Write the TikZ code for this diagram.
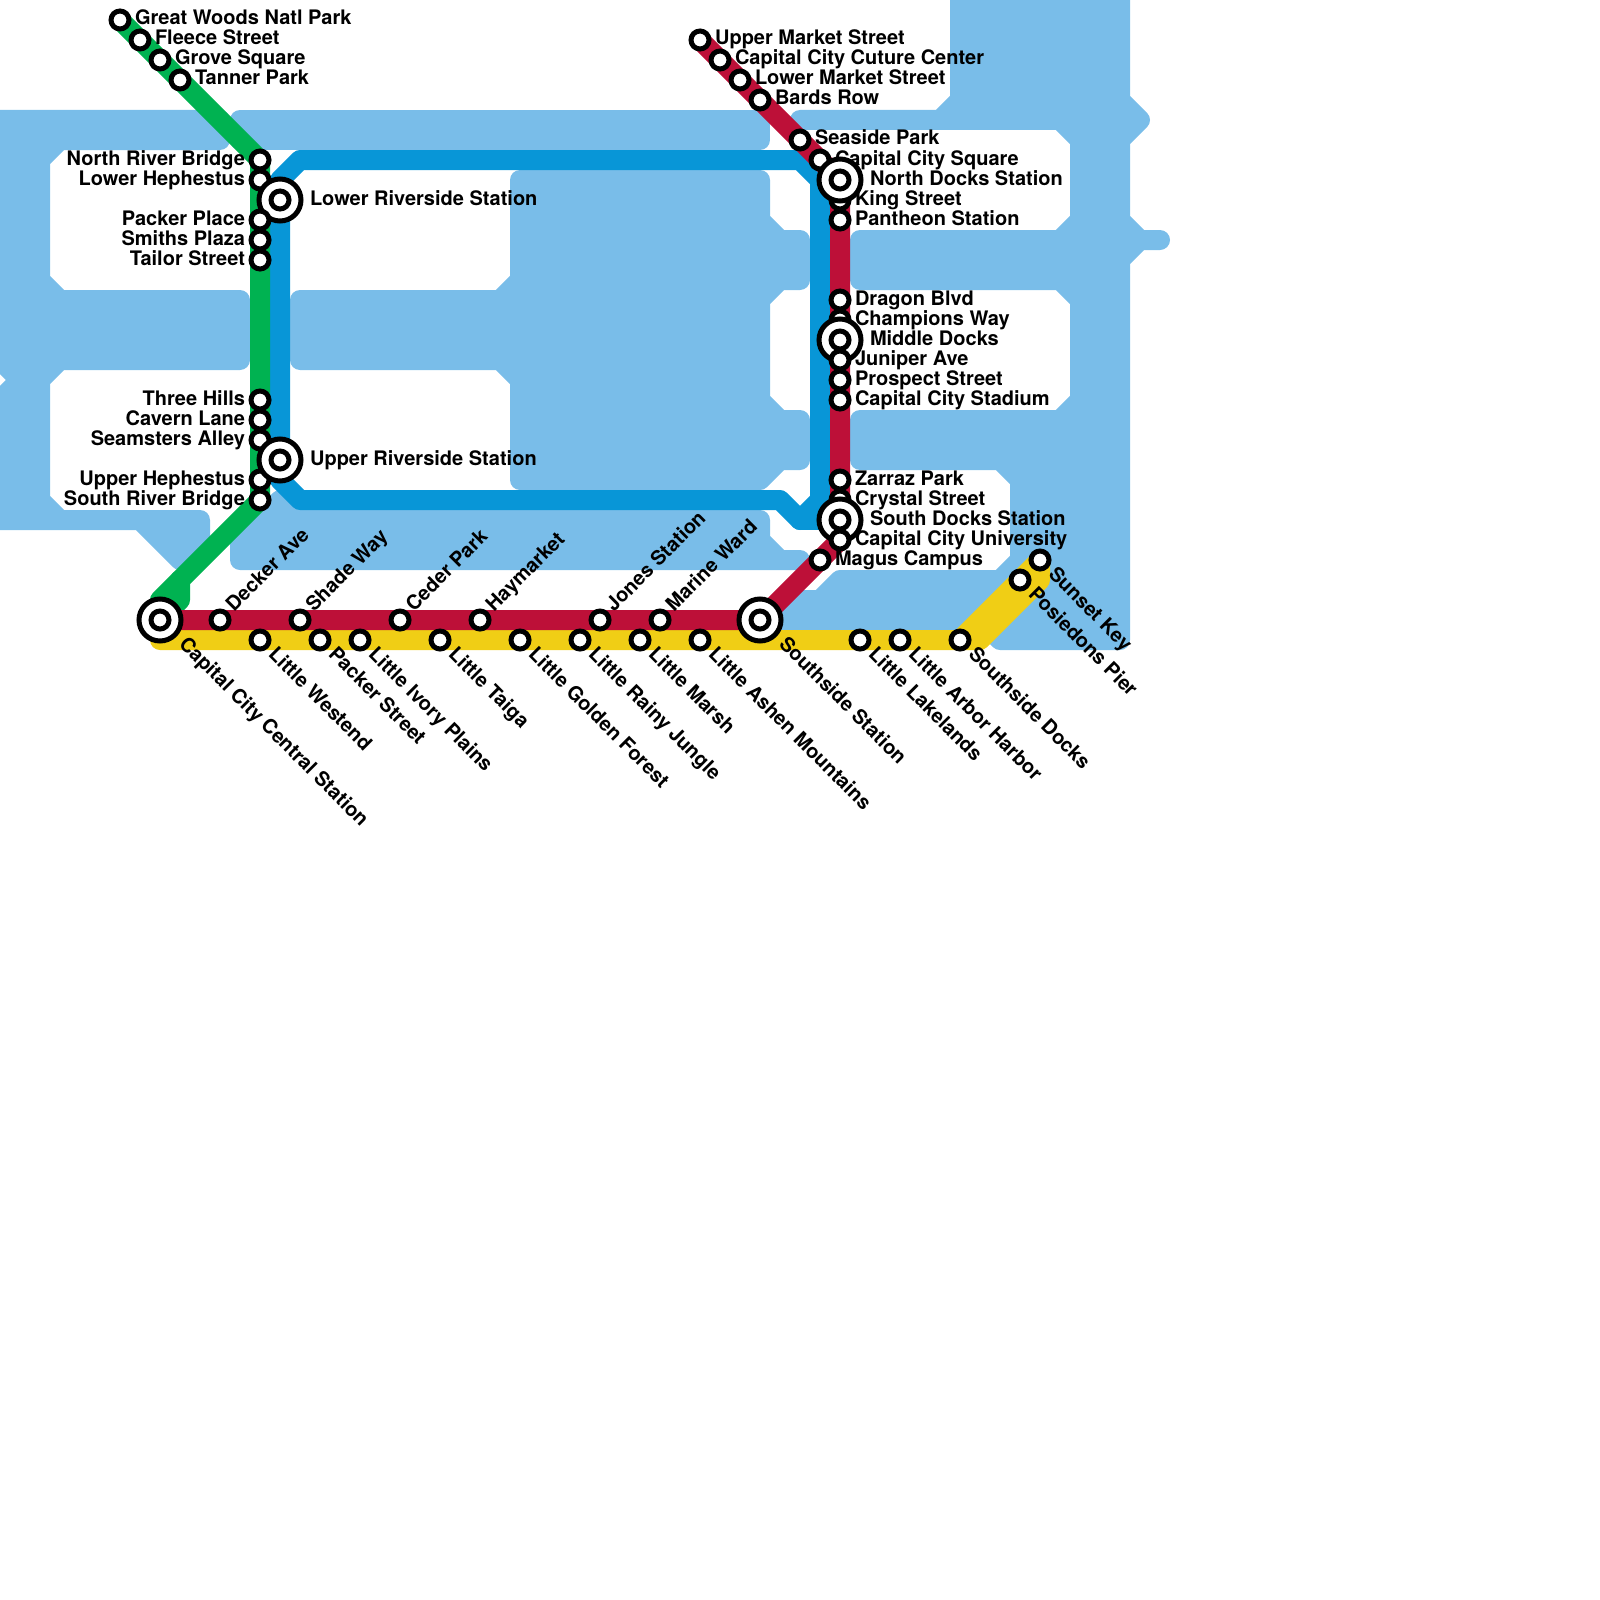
\documentclass[tikz,border=0pt]{standalone}
\usepackage{fontspec}
\setmainfont{TeX Gyre Heros}
\usetikzlibrary{backgrounds}
\definecolor{waterc}{HTML}{79BDE9}
\definecolor{bluec}{HTML}{0896D7}
\definecolor{greenc}{HTML}{00B251}
\definecolor{redc}{HTML}{BD1038}
\definecolor{yellowc}{HTML}{F0CE15}
\tikzset{
  stn/.style={circle,draw=black,fill=white,line width=5pt,minimum size=18pt,inner sep=0pt,outer sep=0pt},
  bigstn/.style={circle,draw=black,fill=white,line width=5pt,minimum size=42pt,inner sep=0pt,outer sep=0pt},
  lab/.style={font=\fontsize{20pt}{20pt}\selectfont\bfseries,inner sep=0pt,outer sep=0pt,text=black},
  water/.style={fill=waterc,draw=waterc,line width=20pt,line join=round,line cap=round},
  metro/.style={line width=20pt,line join=round,line cap=round}
}
% right label, left label, up-diagonal label, down-diagonal label
\newcommand\stR[3]{\node[stn] (#1) at (#2) {};\node[lab,anchor=base west] (#1-l) at ([shift={(15,5)}]#1.center) {#3};}
\newcommand\stL[3]{\node[stn] (#1) at (#2) {};\node[lab,anchor=base east] (#1-l) at ([shift={(-15,5)}]#1.center) {#3};}
\newcommand\stU[3]{\node[stn] (#1) at (#2) {};\node[lab,anchor=base west,rotate=45] (#1-l) at ([shift={(14,-7.5)}]#1.center) {#3};}
\newcommand\stD[3]{\node[stn] (#1) at (#2) {};\node[lab,anchor=base west,rotate=-45] (#1-l) at ([shift={(7.5,15.5)}]#1.center) {#3};}
\newcommand\bigR[3]{\node[bigstn] (#1) at (#2) {};\node[stn] (#1-c) at (#1.center) {};\node[lab,anchor=base west] (#1-l) at ([shift={(30,5)}]#1.center) {#3};}
\newcommand\bigD[3]{\node[bigstn] (#1) at (#2) {};\node[stn] (#1-c) at (#1.center) {};\node[lab,anchor=base west,rotate=-45] (#1-l) at ([shift={(18,25)}]#1.center) {#3};}
\begin{document}
\begin{tikzpicture}[x=1pt,y=-1pt]
\useasboundingbox (0,0) rectangle (1600,1600);
% stations and labels, in drawing order
\stR{greatwoods}{120,20}{Great Woods Natl Park}
\stR{fleece}{140,40}{Fleece Street}
\stR{grove}{160,60}{Grove Square}
\stR{tanner}{180,80}{Tanner Park}
\stL{northriver}{260,160}{North River Bridge}
\stL{lowerheph}{260,180}{Lower Hephestus}
\bigR{lowerriver}{280,200}{Lower Riverside Station}
\stL{packerplace}{260,220}{Packer Place}
\stL{smiths}{260,240}{Smiths Plaza}
\stL{tailor}{260,260}{Tailor Street}
\stL{threehills}{260,400}{Three Hills}
\stL{cavern}{260,420}{Cavern Lane}
\stL{seamsters}{260,440}{Seamsters Alley}
\stL{upperheph}{260,480}{Upper Hephestus}
\stL{southriver}{260,500}{South River Bridge}
\bigR{upperriver}{280,460}{Upper Riverside Station}
\bigD{central}{160,620}{Capital City Central Station}
\stU{decker}{220,620}{Decker Ave}
\stU{shade}{300,620}{Shade Way}
\stU{ceder}{400,620}{Ceder Park}
\stU{haymarket}{480,620}{Haymarket}
\stU{jones}{600,620}{Jones Station}
\stU{marine}{660,620}{Marine Ward}
\stD{westend}{260,640}{Little Westend}
\stD{packerstreet}{320,640}{Packer Street}
\stD{ivory}{360,640}{Little Ivory Plains}
\stD{taiga}{440,640}{Little Taiga}
\stD{golden}{520,640}{Little Golden Forest}
\stD{rainy}{580,640}{Little Rainy Jungle}
\stD{marsh}{640,640}{Little Marsh}
\stD{ashen}{700,640}{Little Ashen Mountains}
\bigD{southside}{760,620}{Southside Station}
\stD{lakelands}{860,640}{Little Lakelands}
\stD{arbor}{900,640}{Little Arbor Harbor}
\stD{southdocksb}{960,640}{Southside Docks}
\stD{posiedons}{1020,580}{Posiedons Pier}
\stD{sunset}{1040,560}{Sunset Key}
\stR{uppermarket}{700,40}{Upper Market Street}
\stR{culture}{720,60}{Capital City Cuture Center}
\stR{lowermarket}{740,80}{Lower Market Street}
\stR{bards}{760,100}{Bards Row}
\stR{seaside}{800,140}{Seaside Park}
\stR{ccsquare}{820,160}{Capital City Square}
\stR{king}{840,200}{King Street}
\bigR{northdocks}{840,180}{North Docks Station}
\stR{pantheon}{840,220}{Pantheon Station}
\stR{dragon}{840,300}{Dragon Blvd}
\stR{champions}{840,320}{Champions Way}
\bigR{middledocks}{840,340}{Middle Docks}
\stR{juniper}{840,360}{Juniper Ave}
\stR{prospect}{840,380}{Prospect Street}
\stR{stadium}{840,400}{Capital City Stadium}
\stR{zarraz}{840,480}{Zarraz Park}
\stR{crystal}{840,500}{Crystal Street}
\bigR{southdocks}{840,520}{South Docks Station}
\stR{university}{840,540}{Capital City University}
\stR{magus}{820,560}{Magus Campus}
\begin{scope}[on background layer]
\clip (0,0) rectangle (1600,1600);
% water
\draw[water] (-20,120) -- (220,120) -- (220,140) -- (60,140) -- (40,160) -- (40,280) -- (60,300) -- (240,300) -- (240,360) -- (60,360) -- (40,380) -- (40,500) -- (60,520) -- (200,520) -- (200,550) -- (180,560) -- (140,520) -- (-20,520) -- (-20,420) -- (20,380) -- (-20,340) -- cycle;
\draw[water] (240,120) -- (760,120) -- (760,140) -- (240,140) -- cycle;
\draw[water] (300,300) -- (500,300) -- (520,280) -- (520,180) -- (760,180) -- (760,220) -- (780,240) -- (800,240) -- (800,280) -- (780,280) -- (760,300) -- (760,400) -- (780,420) -- (800,420) -- (800,460) -- (780,460) -- (760,480) -- (520,480) -- (520,380) -- (500,360) -- (300,360) -- cycle;
\draw[water] (240,560) -- (240,540) -- (280,500) -- (300,520) -- (760,520) -- (760,540) -- (780,560) -- (800,560) -- cycle;
\draw[water] (800,120) -- (940,120) -- (960,100) -- (960,-20) -- (1120,-20) -- (1120,100) -- (1140,120) -- (1120,140) -- (1120,220) -- (1140,240) -- (1160,240) -- (1140,240) -- (1120,260) -- (1120,640) -- (1000,640) -- (980,620) -- (780,620) -- (800,600) -- (820,600) -- (840,580) -- (1000,580) -- (1020,560) -- (1020,480) -- (1000,460) -- (860,460) -- (860,420) -- (1060,420) -- (1080,400) -- (1080,300) -- (1060,280) -- (860,280) -- (860,240) -- (1060,240) -- (1080,220) -- (1080,140) -- (1060,120) -- cycle;
% bend points
\coordinate (bTL) at (300,160);
\coordinate (bTR) at (800,160);
\coordinate (bR) at (820,180);
\coordinate (bRB) at (820,500);
\coordinate (bBR) at (800,520);
\coordinate (bBM) at (780,500);
\coordinate (bBL) at (300,500);
\coordinate (bL) at (280,480);
\coordinate (bLT) at (280,180);
\coordinate (gA) at (180,580);
\coordinate (gB) at (180,600);
\coordinate (gC) at (160,600);
\coordinate (yS) at (160,640);
\coordinate (yA) at (980,640);
\coordinate (yB) at (1040,580);
% blue
\draw[metro,bluec] (bTL) -- (bTR) -- (bR) -- (bRB) -- (bBR) -- (bBM) -- (bBL) -- (bL) -- (bLT) -- cycle;
\draw[metro,bluec] (bR) -- (northdocks.center);
\draw[metro,bluec] (bBR) -- (southdocks.center);
% green
\draw[metro,greenc] (greatwoods.center) -- (northriver.center) -- (southriver.center) -- (gA) -- (gB) -- (central.center);
\draw[metro,greenc] (gA) -- (gC) -- (central.center);
% yellow
\draw[metro,yellowc] (yS) -- (yA) -- (yB) -- (sunset.center);
\draw[metro,yellowc] (southdocksb.center) -- (sunset.center);
% red
\draw[metro,redc] (central.center) -- (southside.center) -- (university.center) -- (northdocks.center) -- (uppermarket.center);
\end{scope}
\end{tikzpicture}
\end{document}
